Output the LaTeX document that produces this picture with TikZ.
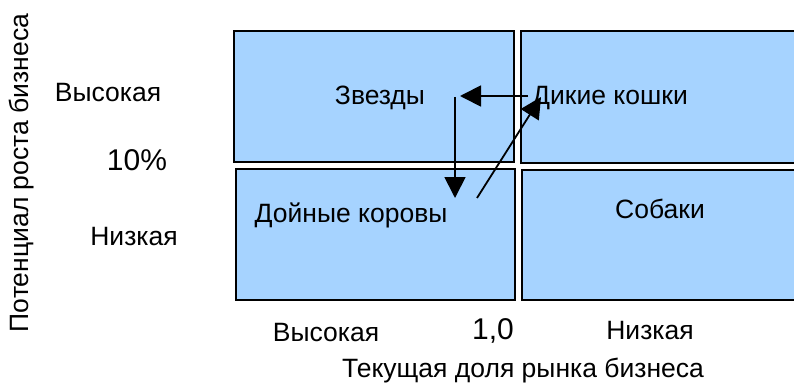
\documentclass[tikz,border=0pt]{standalone}
\usepackage{fontspec}
\setmainfont{Liberation Sans}
\usetikzlibrary{arrows.meta}

\definecolor{cellblue}{RGB}{166,211,255}

\tikzset{
    cell/.style={draw=black, fill=cellblue, line width=1.6pt},
    word/.style={anchor=base, inner sep=0pt, font=\fontsize{26.5}{30}\selectfont},
    number/.style={anchor=base, inner sep=0pt, font=\fontsize{30}{34}\selectfont},
    move/.style={-{Triangle[length=21pt, width=21pt]}, line width=1.8pt}
}

\begin{document}
\begin{tikzpicture}[x=1pt, y=-1pt]
        \useasboundingbox (0, 0) rectangle (794, 385);
        \clip (0, 0) rectangle (794, 385);

        % Boxes
        \draw[cell] (234, 31) rectangle (514, 162);
        \draw[cell] (236, 169) rectangle (515, 300);
        \draw[cell] (521, 31) rectangle (801, 163);
        \draw[cell] (522, 170) rectangle (802, 300);

        % Box labels
        \node[word] (stars) at (380, 104) {Звезды};
        \node[word] (cats) at (610, 104) {Дикие кошки};
        \node[word] (cows) at (351, 222) {Дойные коровы};
        \node[word] (dogs) at (660, 218) {Собаки};

        % Growth axis
        \node[word, rotate=90, anchor=center] (growth) at (22, 173) {Потенциал роста бизнеса};
        \node[word] (high) at (108, 102) {Высокая};
        \node[number] (ten) at (137, 170) {10\%};
        \node[word] (low) at (134, 245) {Низкая};

        % Share axis
        \node[word] (strong) at (326, 341) {Высокая};
        \node[number] (one) at (493, 339) {1,0};
        \node[word] (weak) at (650, 339) {Низкая};
        \node[word] (share) at (523, 377) {Текущая доля рынка бизнеса};

        % Arrows
        \coordinate (A) at (528, 96);
        \coordinate (B) at (460, 96);
        \coordinate (C) at (455, 97);
        \coordinate (D) at (455, 198);
        \coordinate (E) at (477, 198);
        \coordinate (F) at (541, 97);
        \draw[move] (A) -- (B);
        \draw[move] (C) -- (D);
        \draw[move] (E) -- (F);

    \end{tikzpicture}
\end{document}
